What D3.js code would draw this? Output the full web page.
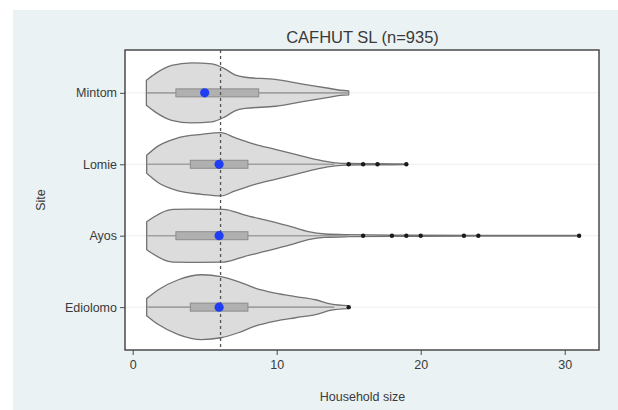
<!DOCTYPE html>
<html>
<head>
<meta charset="utf-8">
<script src="https://cdn.jsdelivr.net/npm/d3@7"></script>
<style>
  html, body { margin: 0; padding: 0; background: #ffffff; }
  svg { display: block; }
  text { font-family: "Liberation Sans", Arial, sans-serif; fill: #3a3a3a; }
</style>
</head>
<body>
<svg id="chart" width="618" height="410"></svg>
<script>
// ---------------- data ----------------
const title = "CAFHUT SL (n=935)";
const xTitle = "Household size";
const yTitle = "Site";
const sites = ["Mintom", "Lomie", "Ayos", "Ediolomo"];
const sitePos = [4, 3, 2, 1];
const xTicks = [0, 10, 20, 30];
const medians = [5, 6, 6, 6];
const q1 = [3, 4, 3, 4];
const q3 = [8.75, 8, 8, 8];
const whiskerLo = [1, 1, 1, 1];
const whiskerHi = [15, 14, 15, 14];
const outliers = [
  [],
  [15, 16, 17, 19],
  [16, 18, 19, 20, 23, 24, 31],
  [15]
];
const referenceLine = 6.1;
// estimated kernel density profiles [household size, density]
const densityMintom = [[0.95,0.0625],[1.55,0.095],[2.7,0.137],[4.1,0.150],[5.5,0.145],[6.4,0.12],[7.1,0.09],[7.8,0.078],[9.9,0.067],[11.7,0.045],[13.6,0.023],[14.4,0.013],[15,0.01]];
const densityLomie = [[0.97,0.045],[1.78,0.092],[3.17,0.133],[4.79,0.15],[6.13,0.158],[7.1,0.133],[8.5,0.1],[9.9,0.075],[11.3,0.05],[12.7,0.025],[14.05,0.0075],[15,0.004],[17,0.003],[19,0.002]];
const densityAyos = [[0.97,0.07],[2.47,0.128],[2.8,0.132],[4.5,0.133],[6.3,0.132],[7.8,0.103],[9.4,0.075],[11.0,0.045],[12.2,0.02],[13.35,0.0085],[14.95,0.005],[18,0.003],[24,0.002],[31,0.0015]];
const densityEdiolomo = [[0.97,0.0425],[1.78,0.087],[3.17,0.137],[4.79,0.162],[6.13,0.153],[7.33,0.128],[8.5,0.095],[9.9,0.07],[11.3,0.053],[12.7,0.037],[13.8,0.015],[14.97,0.0075]];
const densities = [densityMintom, densityLomie, densityAyos, densityEdiolomo];

// ---------------- layout ----------------
const svg = d3.select("#chart");
const W = 618, H = 410;
const plot = { left: 125, right: 599, top: 50, bottom: 350 };

svg.append("rect").attr("x", 13).attr("y", 10).attr("width", W - 13).attr("height", H - 10)
  .attr("fill", "#eaf2f4");
svg.append("rect").attr("x", plot.left).attr("y", plot.top)
  .attr("width", plot.right - plot.left).attr("height", plot.bottom - plot.top)
  .attr("fill", "#ffffff");

const x = d3.scaleLinear().domain([-0.535, 32.38]).range([plot.left, plot.right]);
const y = d3.scaleLinear().domain([0.4, 4.6]).range([plot.bottom, plot.top]);
const w = d3.scaleLinear().domain([0, 0.16]).range([0, 0.448]); // density -> category units

// gridlines
svg.append("g").selectAll("line").data(sitePos).join("line")
  .attr("x1", plot.left).attr("x2", plot.right)
  .attr("y1", d => y(d)).attr("y2", d => y(d))
  .attr("stroke", "#eeeeee").attr("stroke-width", 1);

// violins
sites.forEach((s, i) => {
  const p = sitePos[i];
  const area = d3.area()
    .x(d => x(d[0]))
    .y0(d => y(p + w(d[1])))
    .y1(d => y(p - w(d[1])))
    .curve(d3.curveMonotoneX);
  svg.append("path").datum(densities[i]).attr("d", area)
    .attr("fill", "#dcdcdc").attr("stroke", "#727272").attr("stroke-width", 1.3)
    .attr("stroke-linejoin", "round");
});

// whiskers
svg.append("g").selectAll("line").data(sites).join("line")
  .attr("x1", (d, i) => x(whiskerLo[i])).attr("x2", (d, i) => x(whiskerHi[i]))
  .attr("y1", (d, i) => y(sitePos[i])).attr("y2", (d, i) => y(sitePos[i]))
  .attr("stroke", "#a0a0a0").attr("stroke-width", 1.6);

// boxes
const boxH = 8;
svg.append("g").selectAll("rect").data(sites).join("rect")
  .attr("x", (d, i) => x(q1[i])).attr("width", (d, i) => x(q3[i]) - x(q1[i]))
  .attr("y", (d, i) => y(sitePos[i]) - boxH / 2).attr("height", boxH)
  .attr("fill", "#b0b0b0").attr("stroke", "#8c8c8c").attr("stroke-width", 1);

// reference line
svg.append("line")
  .attr("x1", x(referenceLine)).attr("x2", x(referenceLine))
  .attr("y1", plot.top).attr("y2", plot.bottom)
  .attr("stroke", "#555").attr("stroke-width", 1.3).attr("stroke-dasharray", "3,3");

// outliers
sites.forEach((s, i) => {
  svg.append("g").selectAll("circle").data(outliers[i]).join("circle")
    .attr("cx", d => x(d)).attr("cy", y(sitePos[i])).attr("r", 2.2)
    .attr("fill", "#1a1a1a");
});

// medians
svg.append("g").selectAll("circle").data(sites).join("circle")
  .attr("cx", (d, i) => x(medians[i])).attr("cy", (d, i) => y(sitePos[i])).attr("r", 4.6)
  .attr("fill", "#1f3df2");

// frame
svg.append("rect").attr("x", plot.left).attr("y", plot.top)
  .attr("width", plot.right - plot.left).attr("height", plot.bottom - plot.top)
  .attr("fill", "none").attr("stroke", "#4a4a4a").attr("stroke-width", 1.5);

// x axis
const xAxis = svg.append("g").attr("transform", `translate(0,${plot.bottom})`)
  .call(d3.axisBottom(x).tickValues(xTicks).tickSize(5).tickPadding(5).tickFormat(d3.format("d")));
xAxis.select(".domain").remove();
xAxis.selectAll("line").attr("stroke", "#4a4a4a");
xAxis.selectAll("text").attr("font-size", "12.5px").attr("fill", "#3a3a3a")
  .attr("font-family", "Liberation Sans, Arial, sans-serif");

// y axis
const yAxis = svg.append("g").attr("transform", `translate(${plot.left},0)`)
  .call(d3.axisLeft(y).tickValues(sitePos).tickSize(5).tickPadding(3)
    .tickFormat(d => sites[sitePos.indexOf(d)]));
yAxis.select(".domain").remove();
yAxis.selectAll("line").attr("stroke", "#4a4a4a");
yAxis.selectAll("text").attr("font-size", "12.5px").attr("fill", "#3a3a3a")
  .attr("font-family", "Liberation Sans, Arial, sans-serif");

// titles
svg.append("text").attr("x", 362.5).attr("y", 43).attr("text-anchor", "middle")
  .attr("font-size", "16.5px").text(title);
svg.append("text").attr("x", 362.5).attr("y", 401).attr("text-anchor", "middle")
  .attr("font-size", "12.5px").text(xTitle);
svg.append("text").attr("transform", "translate(45,200) rotate(-90)").attr("text-anchor", "middle")
  .attr("font-size", "12.5px").text(yTitle);
</script>
</body>
</html>
